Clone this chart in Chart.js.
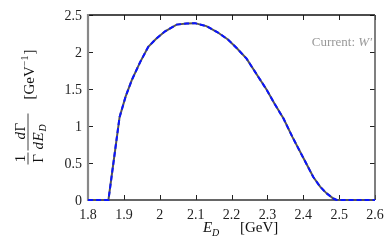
<!DOCTYPE html>
<html>
<head>
<meta charset="utf-8">
<script src="https://cdn.jsdelivr.net/npm/chart.js@4"></script>
<style>
  html, body { margin: 0; padding: 0; background: #fff; }
  #wrap { width: 390px; height: 244px; }
</style>
</head>
<body>
<div id="wrap"><canvas id="c" width="390" height="244"></canvas></div>
<script>
// Data
const energies = [1.80, 1.857, 1.888, 1.905, 1.922, 1.945, 1.968, 1.99, 2.015, 2.047, 2.075, 2.098, 2.13, 2.16, 2.19, 2.215, 2.242, 2.27, 2.298, 2.32, 2.345, 2.37, 2.40, 2.428, 2.447, 2.465, 2.484, 2.493, 2.60];
const rates    = [0.00, 0.00, 1.12, 1.40, 1.62, 1.86, 2.07, 2.18, 2.28, 2.37, 2.385, 2.39, 2.35, 2.27, 2.17, 2.05, 1.91, 1.70, 1.49, 1.30, 1.10, 0.85, 0.57, 0.31, 0.18, 0.09, 0.02, 0.00, 0.00];
const xTickLabels = ["1.8", "1.9", "2", "2.1", "2.2", "2.3", "2.4", "2.5", "2.6"];
const yTickLabels = ["0", "0.5", "1", "1.5", "2", "2.5"];
const annotationText = ["Current: ", "W\u2032"];

const pts = energies.map((e, i) => ({ x: e, y: rates[i] }));
const SERIF = "'Liberation Serif', 'DejaVu Serif', serif";

const framePlugin = {
  id: 'frame',
  beforeDatasetsDraw(chart) {
    const { ctx, chartArea: a, scales } = chart;
    ctx.save();
    ctx.strokeStyle = '#222';
    ctx.lineWidth = 1;
    const tl = 5;
    scales.x.ticks.forEach(t => {
      const px = Math.round(scales.x.getPixelForValue(t.value)) + 0.5;
      ctx.beginPath();
      ctx.moveTo(px, a.bottom); ctx.lineTo(px, a.bottom - tl);
      ctx.moveTo(px, a.top); ctx.lineTo(px, a.top + tl);
      ctx.stroke();
    });
    scales.y.ticks.forEach(t => {
      const py = Math.round(scales.y.getPixelForValue(t.value)) + 0.5;
      ctx.beginPath();
      ctx.moveTo(a.left, py); ctx.lineTo(a.left + tl, py);
      ctx.moveTo(a.right, py); ctx.lineTo(a.right - tl, py);
      ctx.stroke();
    });
    ctx.lineWidth = 1.5;
    ctx.strokeStyle = '#111';
    ctx.beginPath(); ctx.moveTo(a.left, a.top); ctx.lineTo(a.right, a.top); ctx.stroke();
    ctx.strokeStyle = '#333';
    ctx.beginPath(); ctx.moveTo(a.left, a.bottom); ctx.lineTo(a.right, a.bottom); ctx.stroke();
    ctx.strokeStyle = '#555';
    ctx.beginPath(); ctx.moveTo(a.right, a.top); ctx.lineTo(a.right, a.bottom); ctx.stroke();
    ctx.lineWidth = 2.2;
    ctx.strokeStyle = '#888';
    ctx.beginPath(); ctx.moveTo(a.left, a.top - 1); ctx.lineTo(a.left, a.bottom + 1); ctx.stroke();

    // tick labels, placed through the scales
    ctx.fillStyle = '#222';
    ctx.font = '14px ' + SERIF;
    ctx.textBaseline = 'alphabetic';
    ctx.textAlign = 'center';
    scales.x.ticks.forEach((t, i) => {
      ctx.fillText(xTickLabels[i], scales.x.getPixelForValue(t.value), 219);
    });
    ctx.textAlign = 'right';
    scales.y.ticks.forEach((t, i) => {
      ctx.fillText(yTickLabels[i], a.left - 6, scales.y.getPixelForValue(t.value) + 4.5);
    });
    ctx.restore();
  }
};

const textPlugin = {
  id: 'texts',
  afterDraw(chart) {
    const { ctx, chartArea: a } = chart;
    ctx.save();
    ctx.fillStyle = '#111';
    ctx.textBaseline = 'alphabetic';
    ctx.textAlign = 'left';
    ctx.font = 'italic 15px ' + SERIF;
    ctx.fillText('E', 203, 232);
    ctx.font = 'italic 10px ' + SERIF;
    ctx.fillText('D', 212, 236);
    ctx.font = '15px ' + SERIF;
    ctx.fillText('[GeV]', 240, 232);

    const cy = (a.top + a.bottom) / 2;
    ctx.translate(27.5, cy);
    ctx.rotate(-Math.PI / 2);
    ctx.textAlign = 'center';
    ctx.font = '15px ' + SERIF;
    ctx.fillText('1', -51, -3);
    ctx.fillText('\u0393', -51, 15);
    ctx.lineWidth = 0.8;
    ctx.strokeStyle = '#111';
    ctx.beginPath(); ctx.moveTo(-57, 0.5); ctx.lineTo(-45, 0.5); ctx.stroke();
    ctx.textAlign = 'left';
    ctx.font = 'italic 15px ' + SERIF;
    ctx.fillText('d', -32, -3);
    ctx.font = '15px ' + SERIF;
    ctx.fillText('\u0393', -24, -3);
    ctx.font = 'italic 15px ' + SERIF;
    ctx.fillText('d', -42, 15);
    ctx.fillText('E', -34, 15);
    ctx.font = 'italic 10px ' + SERIF;
    ctx.fillText('D', -24, 18);
    ctx.beginPath(); ctx.moveTo(-43, 0.5); ctx.lineTo(-6, 0.5); ctx.stroke();
    ctx.font = '15px ' + SERIF;
    ctx.fillText('[GeV', 8, 6);
    const w = ctx.measureText('[GeV').width;
    ctx.font = '10px ' + SERIF;
    ctx.fillText('\u22121', 8 + w, 0);
    const w2 = ctx.measureText('\u22121').width;
    ctx.font = '15px ' + SERIF;
    ctx.fillText(']', 8 + w + w2 + 1, 6);
    ctx.restore();

    ctx.save();
    ctx.fillStyle = '#999';
    ctx.textBaseline = 'alphabetic';
    ctx.textAlign = 'right';
    ctx.font = 'italic 13px ' + SERIF;
    const wW = ctx.measureText(annotationText[1]).width;
    ctx.fillText(annotationText[1], 372, 46);
    ctx.font = '13px ' + SERIF;
    ctx.fillText(annotationText[0], 372 - wW, 46);
    ctx.restore();
  }
};

new Chart(document.getElementById('c'), {
  type: 'line',
  data: {
    datasets: [
      { data: pts, borderColor: '#0a14ff', borderWidth: 2, borderDash: [5, 3], pointRadius: 0, tension: 0, fill: false, order: 0, clip: 3 },
      { data: pts, borderColor: '#555', borderWidth: 2, pointRadius: 0, tension: 0, fill: false, order: 1, clip: 3 }
    ]
  },
  options: {
    responsive: false,
    animation: false,
    events: [],
    layout: { padding: { top: 15, right: 15, left: 0, bottom: 0 } },
    plugins: { legend: { display: false }, tooltip: { enabled: false } },
    scales: {
      x: {
        type: 'linear', min: 1.8, max: 2.6,
        afterFit(s) { s.height = 44; },
        grid: { display: false, drawTicks: false },
        border: { display: false },
        ticks: { stepSize: 0.1, autoSkip: false, display: false }
      },
      y: {
        type: 'linear', min: 0, max: 2.5,
        afterFit(s) { s.width = 88; },
        grid: { display: false, drawTicks: false },
        border: { display: false },
        ticks: { stepSize: 0.5, autoSkip: false, display: false }
      }
    }
  },
  plugins: [framePlugin, textPlugin]
});
</script>
</body>
</html>
